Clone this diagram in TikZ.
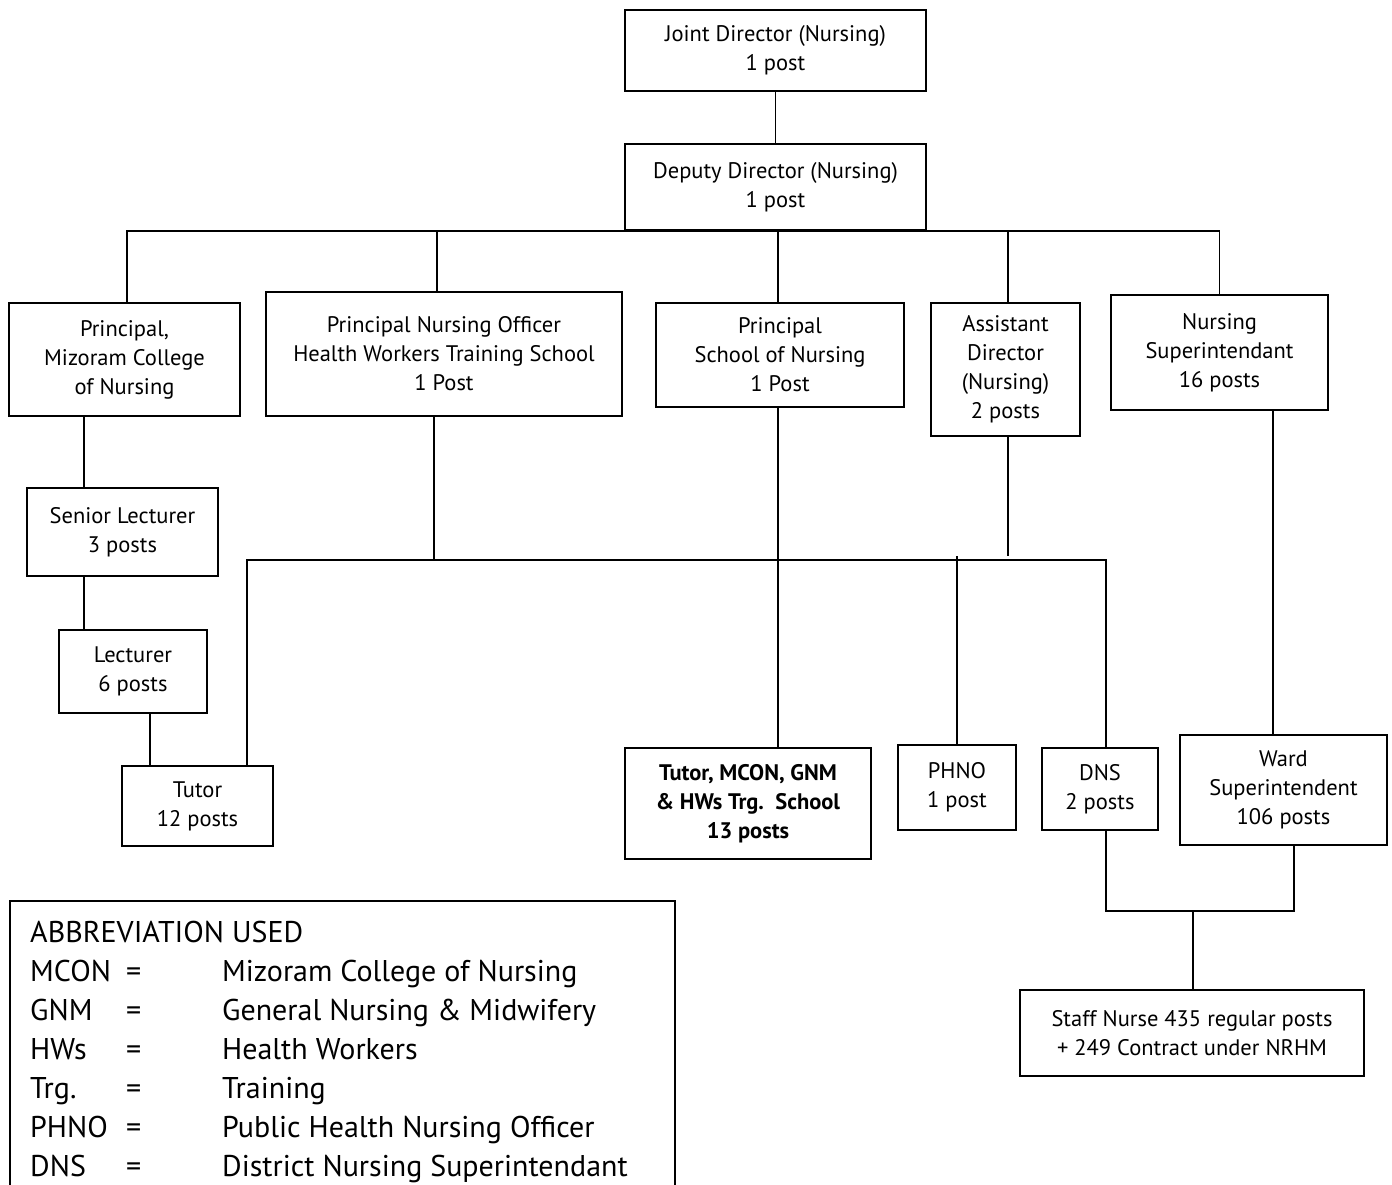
\documentclass[tikz,border=0pt]{standalone}
\usepackage{fontspec}
\setmainfont{PT Sans}
\begin{document}
\begin{tikzpicture}[x=1pt,y=-1pt,
  box/.style={draw, line width=1.5pt, align=center, inner sep=0pt, font=\fontsize{22.5}{29}\selectfont},
  conn/.style={line width=1.4pt},
  legtxt/.style={anchor=base west, inner sep=0pt, font=\fontsize{30}{39}\selectfont}]
\useasboundingbox (0,0) rectangle (1392,1185);
\clip (0,0) rectangle (1392,1185);
\fill[white] (0,0) rectangle (1392,1185);

% helper x positions
\coordinate (xa) at (84,0);
\coordinate (xb) at (150,0);
\coordinate (xc) at (247,0);
\coordinate (xd) at (1106,0);
\coordinate (xe) at (434,0);
\coordinate (xs) at (778,0);
\coordinate (xf) at (1008,0);
\coordinate (xg) at (1273,0);
\coordinate (xh) at (1294,0);
\coordinate (bus) at (0,231);
\coordinate (lb) at (0,560);
\coordinate (lbt) at (0,556);
\coordinate (j) at (1193,911);

\node[box, minimum width=301pt, minimum height=81pt] (jd) at (775.5,50.5) {Joint Director (Nursing)\\1 post};
\node[box, minimum width=301pt, minimum height=86pt] (dd) at (775.5,187) {Deputy Director (Nursing)\\1 post};
\node[box, minimum width=231pt, minimum height=113pt] (mcon) at (124.5,359.5) {\raisebox{0pt}[0pt][0pt]{}Principal,\\Mizoram College\\of Nursing};
\node[box, minimum width=356pt, minimum height=124pt] (pno) at (444,354) {Principal Nursing Officer\\Health Workers Training School\\1 Post};
\node[box, minimum width=248pt, minimum height=104pt] (son) at (780,355) {Principal\\School of Nursing\\1 Post};
\node[box, minimum width=149pt, minimum height=133pt] (ad) at (1005.5,369.5) {Assistant\\Director\\(Nursing)\\2 posts};
\node[box, minimum width=217pt, minimum height=115pt] (ns) at (1219.5,352.5) {Nursing\\Superintendant\\16 posts};
\node[box, minimum width=191pt, minimum height=88pt] (sl) at (122.5,532) {Senior Lecturer\\3 posts};
\node[box, minimum width=148pt, minimum height=83pt] (lec) at (133,671.5) {Lecturer\\6 posts};
\node[box, minimum width=151pt, minimum height=80pt] (tut) at (197.5,806) {Tutor\\12 posts};
\node[box, minimum width=246pt, minimum height=111pt, font=\fontsize{22.5}{29}\selectfont\bfseries] (tm) at (748,803.5) {Tutor, MCON, GNM\\\& HWs Trg.\ \ School\\13 posts};
\node[box, minimum width=118pt, minimum height=85pt] (phno) at (957,787.5) {PHNO\\1 post};
\node[box, minimum width=116pt, minimum height=82pt] (dns) at (1100,789) {DNS\\2 posts};
\node[box, minimum width=207pt, minimum height=110pt] (ws) at (1283.5,790) {Ward\\Superintendent\\106 posts};
\node[box, minimum width=344pt, minimum height=86pt] (sn) at (1192,1033) {Staff Nurse 435 regular posts\\+ 249 Contract under NRHM};

% top connectors
\draw[conn] (jd.south) -- (dd.north);
\draw[conn] ([xshift=2.5pt]mcon.north) |- (bus -| ns.north) -- (ns.north);
\draw[conn] (xs |- dd.south) -- (xs |- son.north);
\draw[conn] ([xshift=-7pt]pno.north) -- ([xshift=-7pt]pno.north |- bus);
\draw[conn] (xf |- ad.north) -- (xf |- bus);

% left chain
\draw[conn] (xa |- mcon.south) -- (xa |- sl.north);
\draw[conn] (xa |- sl.south) -- (xa |- lec.north);
\draw[conn] (xb |- lec.south) -- (xb |- tut.north);

% lower bus
\draw[conn] (xc |- tut.north) |- (xd |- lb) -- (xd |- dns.north);
\draw[conn] (xe |- pno.south) -- (xe |- lb);
\draw[conn] (xs |- son.south) -- (xs |- tm.north);
\draw[conn] (xf |- ad.south) -- (xf |- lbt);
\draw[conn] (phno.north) -- (phno.north |- lbt);

% right side
\draw[conn] (xg |- ns.south) -- (xg |- ws.north);
\draw[conn] (xd |- dns.south) |- (j) -| (xh |- ws.south);
\draw[conn] (j) -- (j |- sn.north);

% legend
\node[draw, line width=1.5pt, anchor=north west, minimum width=665pt, minimum height=320pt, inner sep=0pt] (leg) at (9,900) {};
\node[legtxt] (l0) at (30,942) {ABBREVIATION USED};
\node[legtxt] (l1a) at (30,981) {MCON};
\node[legtxt] (l1b) at (126,981) {=};
\node[legtxt] (l1c) at (222,981) {Mizoram College of Nursing};
\node[legtxt] (l2a) at (30,1020) {GNM};
\node[legtxt] (l2b) at (126,1020) {=};
\node[legtxt] (l2c) at (222,1020) {General Nursing \& Midwifery};
\node[legtxt] (l3a) at (30,1059) {HWs};
\node[legtxt] (l3b) at (126,1059) {=};
\node[legtxt] (l3c) at (222,1059) {Health Workers};
\node[legtxt] (l4a) at (30,1098) {Trg.};
\node[legtxt] (l4b) at (126,1098) {=};
\node[legtxt] (l4c) at (222,1098) {Training};
\node[legtxt] (l5a) at (30,1137) {PHNO};
\node[legtxt] (l5b) at (126,1137) {=};
\node[legtxt] (l5c) at (222,1137) {Public Health Nursing Officer};
\node[legtxt] (l6a) at (30,1176) {DNS};
\node[legtxt] (l6b) at (126,1176) {=};
\node[legtxt] (l6c) at (222,1176) {District Nursing Superintendant};
\end{tikzpicture}
\end{document}
